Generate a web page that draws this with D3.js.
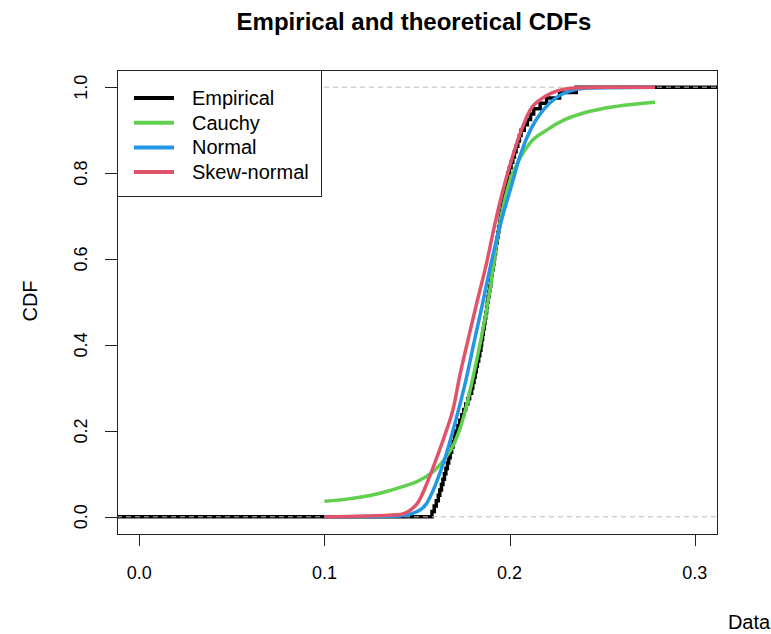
<!DOCTYPE html>
<html lang="en">
  <head>
    <meta charset="UTF-8" />
    <title>Empirical and theoretical CDFs</title>
    <script src="https://cdn.jsdelivr.net/npm/d3@7"></script>
    <style>
      body { margin: 0; background: #fff; }
      text { font-family: "Liberation Sans", Arial, sans-serif; fill: #000; }
    </style>
  </head>
  <body>
    <svg width="771" height="634"></svg>
    <script>
      // sorted sample (empirical CDF)
      var sample = [0.1581, 0.1593, 0.1604, 0.1615, 0.1623, 0.1632, 0.1640, 0.1648,
        0.1656, 0.1664, 0.1671, 0.1679, 0.1687, 0.1695, 0.1702, 0.1710,
        0.1721, 0.1731, 0.1742, 0.1753, 0.1763, 0.1774, 0.1784, 0.1795,
        0.1801, 0.1808, 0.1814, 0.1820, 0.1826, 0.1833, 0.1839, 0.1845,
        0.1849, 0.1854, 0.1858, 0.1863, 0.1867, 0.1871, 0.1876, 0.1880,
        0.1884, 0.1889, 0.1893, 0.1898, 0.1902, 0.1906, 0.1911, 0.1915,
        0.1919, 0.1924, 0.1928, 0.1933, 0.1937, 0.1941, 0.1946, 0.1950,
        0.1955, 0.1960, 0.1965, 0.1970, 0.1975, 0.1980, 0.1985, 0.1990,
        0.1999, 0.2008, 0.2017, 0.2026, 0.2035, 0.2044, 0.2053, 0.2062,
        0.2079, 0.2096, 0.2113, 0.2130, 0.2165, 0.2200, 0.2270, 0.2360];

      // fitted CDFs
      var cauchyX = [0.100, 0.110, 0.120, 0.130, 0.1435, 0.150, 0.160, 0.165, 0.170, 0.175, 0.180, 0.1883,
        0.195, 0.200, 0.205, 0.211, 0.220, 0.230, 0.240, 0.250, 0.2785];
      var cauchyY = [0.036, 0.040, 0.046, 0.055, 0.072, 0.082, 0.11, 0.135, 0.17, 0.23, 0.32, 0.50,
        0.69, 0.78, 0.83, 0.87, 0.90, 0.925, 0.94, 0.95, 0.965];

      var normalX = [0.100, 0.140, 0.150, 0.155, 0.160, 0.165, 0.170, 0.1765, 0.181, 0.1856, 0.190, 0.195,
        0.2013, 0.2056, 0.212, 0.218, 0.225, 0.232, 0.242, 0.2785];
      var normalY = [0.0, 0.002, 0.012, 0.03, 0.075, 0.135, 0.21, 0.32, 0.41, 0.50, 0.59, 0.68,
        0.775, 0.84, 0.907, 0.946, 0.975, 0.99, 0.998, 1.0];

      var skewX = [0.100, 0.140, 0.150, 0.156, 0.160, 0.165, 0.170, 0.1727, 0.178, 0.1824, 0.187, 0.192,
        0.196, 0.201, 0.207, 0.211, 0.218, 0.225, 0.235, 0.250, 0.2785];
      var skewY = [0.0, 0.005, 0.03, 0.085, 0.13, 0.19, 0.26, 0.32, 0.42, 0.50, 0.58, 0.68,
        0.753, 0.83, 0.907, 0.946, 0.975, 0.99, 0.998, 1.0, 1.0];

      var legendNames = ["Empirical", "Cauchy", "Normal", "Skew-normal"];
      var legendColors = ["#000000", "#61D04F", "#2297E6", "#DF536B"];
      var xTicks = [0.0, 0.1, 0.2, 0.3];
      var yTicks = [0.0, 0.2, 0.4, 0.6, 0.8, 1.0];

      var svg = d3.select("svg");
      var pLeft = 117, pRight = 717, pTop = 70, pBottom = 534;

      var x = d3.scaleLinear().domain([-0.012, 0.312]).range([pLeft, pRight]);
      var y = d3.scaleLinear().domain([-0.04, 1.04]).range([pBottom, pTop]);

      // title
      svg.append("text")
        .attr("x", 414).attr("y", 30)
        .attr("text-anchor", "middle")
        .attr("font-size", "24px").attr("font-weight", "bold")
        .text("Empirical and theoretical CDFs");

      // clip to plot region
      svg.append("clipPath").attr("id", "plot")
        .append("rect").attr("x", pLeft).attr("y", pTop)
        .attr("width", pRight - pLeft).attr("height", pBottom - pTop);
      var g = svg.append("g").attr("clip-path", "url(#plot)");

      // empirical step function
      var ecdf = [[x.domain()[0], 0]];
      sample.forEach(function (v, i) {
        ecdf.push([v, i / sample.length]);
        ecdf.push([v, (i + 1) / sample.length]);
      });
      ecdf.push([x.domain()[1], 1]);

      var line = d3.line()
        .x(function (d) { return x(d[0]); })
        .y(function (d) { return y(d[1]); });

      g.append("path").datum(ecdf)
        .attr("d", line)
        .attr("fill", "none").attr("stroke", legendColors[0])
        .attr("stroke-width", 3.5);

      // reference lines at 0 and 1
      g.selectAll(".hline").data([0, 1]).enter().append("line")
        .attr("x1", pLeft).attr("x2", pRight)
        .attr("y1", function (d) { return y(d); })
        .attr("y2", function (d) { return y(d); })
        .attr("stroke", "#bdbdbd").attr("stroke-width", 1)
        .attr("stroke-dasharray", "5,4");

      var smooth = d3.line()
        .x(function (d) { return x(d[0]); })
        .y(function (d) { return y(d[1]); })
        .curve(d3.curveMonotoneX);

      var fits = [
        [cauchyX, cauchyY, legendColors[1]],
        [normalX, normalY, legendColors[2]],
        [skewX, skewY, legendColors[3]]
      ];
      fits.forEach(function (f) {
        g.append("path")
          .datum(d3.zip(f[0], f[1]))
          .attr("d", smooth)
          .attr("fill", "none").attr("stroke", f[2])
          .attr("stroke-width", 3.5);
      });

      // box
      svg.append("rect")
        .attr("x", pLeft + 0.5).attr("y", pTop + 0.5)
        .attr("width", pRight - pLeft).attr("height", pBottom - pTop)
        .attr("fill", "none").attr("stroke", "#222");

      // y axis
      var yAxis = svg.append("g");
      yAxis.append("line")
        .attr("x1", pLeft + 0.5).attr("x2", pLeft + 0.5)
        .attr("y1", y(0)).attr("y2", y(1)).attr("stroke", "#222");
      yAxis.selectAll(".yt").data(yTicks).enter().append("line")
        .attr("x1", pLeft - 12).attr("x2", pLeft)
        .attr("y1", function (d) { return Math.round(y(d)) + 0.5; })
        .attr("y2", function (d) { return Math.round(y(d)) + 0.5; })
        .attr("stroke", "#222");
      yAxis.selectAll(".yl").data(yTicks).enter().append("text")
        .attr("transform", function (d) { return "translate(87," + y(d) + ") rotate(-90)"; })
        .attr("text-anchor", "middle")
        .attr("font-size", "18px")
        .text(d3.format(".1f"));

      // x axis
      var xAxis = svg.append("g");
      xAxis.append("line")
        .attr("x1", x(0)).attr("x2", x(0.3))
        .attr("y1", pBottom + 0.5).attr("y2", pBottom + 0.5).attr("stroke", "#222");
      xAxis.selectAll(".xt").data(xTicks).enter().append("line")
        .attr("x1", function (d) { return Math.round(x(d)) + 0.5; })
        .attr("x2", function (d) { return Math.round(x(d)) + 0.5; })
        .attr("y1", pBottom).attr("y2", pBottom + 12)
        .attr("stroke", "#222");
      xAxis.selectAll(".xl").data(xTicks).enter().append("text")
        .attr("x", function (d) { return x(d); })
        .attr("y", 579)
        .attr("text-anchor", "middle")
        .attr("font-size", "18px")
        .text(d3.format(".1f"));

      // axis titles
      svg.append("text")
        .attr("transform", "translate(37,301) rotate(-90)")
        .attr("text-anchor", "middle").attr("font-size", "20px")
        .text("CDF");
      svg.append("text")
        .attr("x", 749).attr("y", 629)
        .attr("text-anchor", "middle").attr("font-size", "20px")
        .text("Data");

      // legend
      var lg = svg.append("g");
      lg.append("rect")
        .attr("x", pLeft + 0.5).attr("y", pTop + 0.5)
        .attr("width", 204).attr("height", 126)
        .attr("fill", "#fff").attr("stroke", "#222");
      legendNames.forEach(function (name, i) {
        var cy = 98 + i * 24.7;
        lg.append("line")
          .attr("x1", 134).attr("x2", 174)
          .attr("y1", cy).attr("y2", cy)
          .attr("stroke", legendColors[i]).attr("stroke-width", 4);
        lg.append("text")
          .attr("x", 192).attr("y", cy + 7)
          .attr("font-size", "20px")
          .text(name);
      });
    </script>
  </body>
</html>
